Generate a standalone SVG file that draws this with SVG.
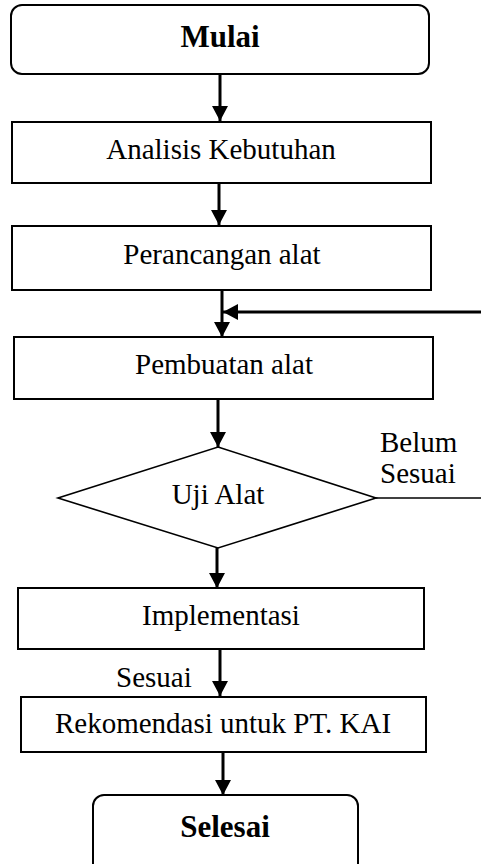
<svg xmlns="http://www.w3.org/2000/svg" width="481" height="864" viewBox="0 0 481 864">
<style>
.box{fill:#fff;stroke:#000;stroke-width:2}
.dia{fill:#fff;stroke:#000;stroke-width:1.6}
.t{font-family:"Liberation Serif","Times New Roman",serif;font-size:29px;fill:#000}
.b{font-weight:bold;font-size:31px}
.m{text-anchor:middle}
.c{stroke:#000;stroke-width:3;fill:none}
.thin{stroke:#000;stroke-width:1.6;fill:none}
</style>
<defs>
<marker id="ah" markerUnits="userSpaceOnUse" markerWidth="16" markerHeight="16" viewBox="0 0 16 16" refX="15" refY="8" orient="auto">
<path d="M0,0 L15,8 L0,16 Z" fill="#000"/>
</marker>
</defs>
<g id="connectors">
<line class="c" x1="220" y1="74" x2="220" y2="121" marker-end="url(#ah)"/>
<line class="c" x1="219" y1="183" x2="219" y2="225" marker-end="url(#ah)"/>
<line class="c" x1="222" y1="290" x2="222" y2="337" marker-end="url(#ah)"/>
<line class="c" x1="481" y1="312" x2="223" y2="312" marker-end="url(#ah)"/>
<line class="c" x1="218" y1="399" x2="218" y2="447" marker-end="url(#ah)"/>
<line class="c" x1="217" y1="548" x2="217" y2="588" marker-end="url(#ah)"/>
<line class="thin" x1="376" y1="498" x2="481" y2="498"/>
<line class="c" x1="220" y1="649" x2="220" y2="696" marker-end="url(#ah)"/>
<line class="c" x1="223" y1="752" x2="223" y2="795" marker-end="url(#ah)"/>
</g>
<g id="mulai">
<rect class="box" x="11" y="5" width="418" height="69" rx="11"/>
<text class="t b m" x="220" y="47">Mulai</text>
</g>
<g id="analisis">
<rect class="box" x="12" y="122" width="419" height="61"/>
<text class="t m" x="221" y="159">Analisis Kebutuhan</text>
</g>
<g id="perancangan">
<rect class="box" x="12" y="226" width="419" height="64"/>
<text class="t m" x="222" y="264">Perancangan alat</text>
</g>
<g id="pembuatan">
<rect class="box" x="14" y="337" width="419" height="62"/>
<text class="t m" x="224" y="374">Pembuatan alat</text>
</g>
<g id="uji">
<polygon class="dia" points="218,447 376,498 218,548 58,498"/>
<text class="t m" x="218" y="504">Uji Alat</text>
</g>
<g id="label-belum">
<text class="t" x="380" y="452">Belum</text>
<text class="t" x="380" y="483">Sesuai</text>
</g>
<g id="implementasi">
<rect class="box" x="18" y="588" width="406" height="61"/>
<text class="t m" x="221" y="625">Implementasi</text>
</g>
<g id="label-sesuai">
<text class="t" x="116" y="687">Sesuai</text>
</g>
<g id="rekomendasi">
<rect class="box" x="21" y="697" width="405" height="55"/>
<text class="t m" x="223" y="733">Rekomendasi untuk PT. KAI</text>
</g>
<g id="selesai">
<rect class="box" x="93" y="795" width="265" height="90" rx="11"/>
<text class="t b m" x="225" y="837">Selesai</text>
</g>
</svg>
